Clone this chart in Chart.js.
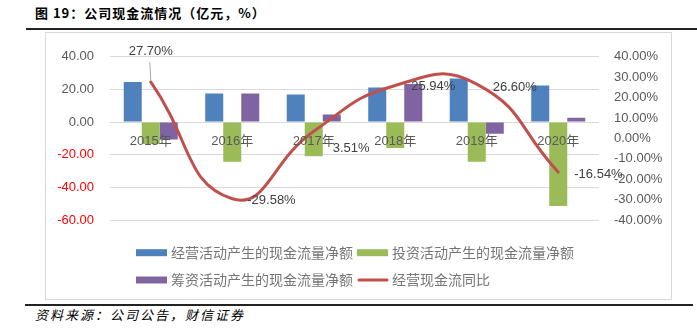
<!DOCTYPE html>
<html>
<head>
<meta charset="utf-8">
<script src="https://cdn.jsdelivr.net/npm/chart.js"></script>
<style>
html, body { margin: 0; padding: 0; background: #fff; }
body { width: 697px; height: 334px; position: relative; overflow: hidden; font-family: "Noto Sans CJK SC", sans-serif; }
.title { position: absolute; left: 35px; top: 4px; font-size: 13px; font-weight: bold; letter-spacing: 1px; line-height: 18px; color: #000; }
.rule-top { position: absolute; left: 26px; right: 0; top: 28px; height: 2px; background: #222; }
.box { position: absolute; left: 45px; top: 32px; width: 627px; height: 268px; border: 1px solid #d9d9d9; box-sizing: border-box; }
.rule-bottom { position: absolute; left: 25px; width: 668px; top: 304px; height: 2px; background: #222; }
.source { position: absolute; left: 35px; top: 306px; font-size: 13px; font-style: italic; letter-spacing: 2px; line-height: 18px; color: #000; }
canvas { display: block; }
</style>
</head>
<body>
<div class="title">图 19：公司现金流情况（亿元，%）</div>
<div class="rule-top"></div>
<div class="box"><canvas id="myChart" width="625" height="266"></canvas></div>
<div class="rule-bottom"></div>
<div class="source">资料来源：公司公告，财信证券</div>

<script>
const years = ['2015年', '2016年', '2017年', '2018年', '2019年', '2020年'];
const operatingCash = [24.5, 17.5, 16.9, 21.2, 26.7, 22.4];
const investingCash = [-13.5, -24.3, -20.9, -15.9, -24.3, -51.4];
const financingCash = [-10.6, 17.5, 4.7, 23.4, -7.2, 2.6];
const operatingYoY = [27.70, -29.58, 3.51, 25.94, 26.60, -16.54];

const numFont = '"Liberation Sans", "Noto Sans CJK SC", sans-serif';
const gray = '#595959';

// legend laid out in two rows, two items each
const legendPlugin = {
    id: 'cashLegend',
    afterDraw(chart) {
        const ctx = chart.ctx;
        const rows = [[0, 1], [2, 3]];
        ctx.save();
        ctx.font = '14px "Noto Sans CJK SC"';
        ctx.textBaseline = 'middle';
        rows.forEach((row, r) => {
            const y = 219.7 + r * 27.3;
            let x = 90;
            row.forEach(i => {
                const ds = chart.data.datasets[i];
                if (ds.type === 'line') {
                    ctx.strokeStyle = ds.borderColor;
                    ctx.lineWidth = 3;
                    ctx.lineCap = 'round';
                    ctx.beginPath();
                    ctx.moveTo(x + 2, y);
                    ctx.lineTo(x + 30, y);
                    ctx.stroke();
                } else {
                    ctx.fillStyle = ds.backgroundColor;
                    ctx.fillRect(x, y - 3.5, 31, 7);
                }
                x += 35;
                ctx.fillStyle = '#757575';
                ctx.fillText(ds.label, x, y);
                x += ctx.measureText(ds.label).width + 4;
            });
        });
        ctx.restore();
    }
};

// value labels on the yoy line
const labelPlugin = {
    id: 'yoyLabels',
    afterDatasetsDraw(chart) {
        const ctx = chart.ctx;
        const meta = chart.getDatasetMeta(3);
        const place = [
            {dx: 0, dy: -30, align: 'center'},
            {dx: 15, dy: 2, align: 'left'},
            {dx: 19, dy: 17, align: 'left'},
            {dx: 16, dy: 1, align: 'left'},
            {dx: 16, dy: 3, align: 'left'},
            {dx: 16, dy: 2, align: 'left'}
        ];
        ctx.save();
        ctx.font = '13px ' + numFont;
        ctx.textBaseline = 'middle';
        ctx.fillStyle = '#404040';
        meta.data.forEach((pt, i) => {
            const p = place[i];
            if (i === 0) {
                ctx.strokeStyle = '#a6a6a6';
                ctx.lineWidth = 1;
                ctx.beginPath();
                ctx.moveTo(pt.x - 1, pt.y - 20);
                ctx.lineTo(pt.x, pt.y - 2);
                ctx.stroke();
            }
            ctx.textAlign = p.align;
            ctx.fillText(operatingYoY[i].toFixed(2) + '%', pt.x + p.dx, pt.y + p.dy);
        });
        ctx.restore();
    }
};

const ctx = document.querySelector('#myChart');
const chart = new Chart(ctx, {
    data: {
        labels: years,
        datasets: [
            {type: 'bar', label: '经营活动产生的现金流量净额', data: operatingCash, backgroundColor: '#4F81BD', order: 1},
            {type: 'bar', label: '投资活动产生的现金流量净额', data: investingCash, backgroundColor: '#9BBB59', order: 1},
            {type: 'bar', label: '筹资活动产生的现金流量净额', data: financingCash, backgroundColor: '#8064A2', order: 1},
            {type: 'line', label: '经营现金流同比', data: operatingYoY, yAxisID: 'y1',
             borderColor: '#C0504D', borderWidth: 3, tension: 0.5, pointRadius: 0,
             borderCapStyle: 'round', order: 0}
        ]
    },
    options: {
        responsive: false,
        animation: false,
        layout: {padding: {top: 18, bottom: 79, left: 0, right: 0}},
        datasets: {bar: {barPercentage: 1, categoryPercentage: 0.663}},
        plugins: {legend: {display: false}, tooltip: {enabled: false}},
        scales: {
            x: {
                position: {y: 0},
                grid: {display: false, drawTicks: false},
                border: {display: false},
                // year labels sit on top of the bars
                ticks: {z: 1, color: gray, padding: 12, font: {family: numFont, size: 13}}
            },
            y: {
                min: -60, max: 40,
                afterFit: s => { s.width = 64; },
                grid: {color: '#D9D9D9', drawTicks: false},
                border: {display: false},
                ticks: {
                    stepSize: 20, padding: 16,
                    font: {family: numFont, size: 13},
                    color: c => c.tick.value < 0 ? '#FF0000' : gray,
                    callback: v => v.toFixed(2)
                }
            },
            y1: {
                position: 'right',
                min: -40, max: 40,
                afterFit: s => { s.width = 72; },
                grid: {display: false, drawTicks: false},
                border: {display: false},
                ticks: {
                    stepSize: 10, padding: 15,
                    font: {family: numFont, size: 13},
                    color: gray,
                    callback: v => v.toFixed(2) + '%'
                }
            }
        }
    },
    plugins: [labelPlugin, legendPlugin]
});
</script>
</body>
</html>
